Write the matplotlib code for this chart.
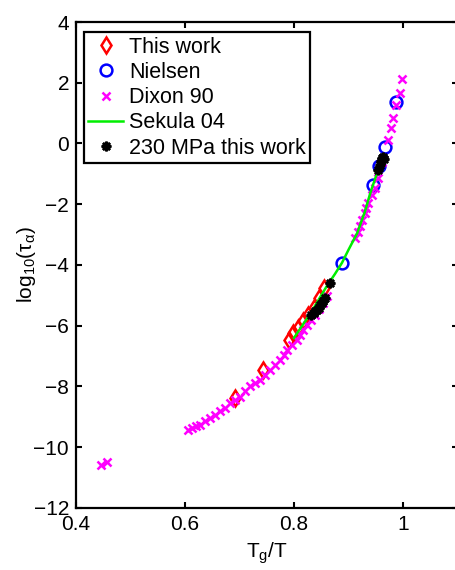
import numpy as np
import matplotlib
matplotlib.use('Agg')
from matplotlib import pyplot as plt

plt.rcParams['font.family'] = ['Liberation Sans', 'DejaVu Sans']
plt.rcParams['mathtext.fontset'] = 'custom'
plt.rcParams['mathtext.rm'] = 'Liberation Sans'
plt.rcParams['mathtext.it'] = 'Liberation Sans'

# data (x = Tg/T, y = log10(tau_alpha))
this_work_x = [0.692, 0.744, 0.790, 0.799, 0.808, 0.817, 0.826, 0.836, 0.845, 0.855]
this_work_y = [-8.38, -7.45, -6.46, -6.24, -6.08, -5.86, -5.64, -5.42, -5.09, -4.75]

nielsen_x = [0.888, 0.945, 0.956, 0.967, 0.988]
nielsen_y = [-3.93, -1.36, -0.74, -0.10, 1.36]

dixon_x = [0.445, 0.456,
           0.605, 0.612, 0.620, 0.628, 0.637, 0.646, 0.655, 0.664, 0.673, 0.683,
           0.692, 0.701, 0.710, 0.719, 0.728, 0.738, 0.747, 0.756, 0.765, 0.774,
           0.781, 0.788, 0.796, 0.805, 0.811, 0.817, 0.823, 0.832, 0.839, 0.846,
           0.853, 0.860,
           0.912, 0.918, 0.921, 0.924, 0.930, 0.933, 0.936, 0.943, 0.948, 0.955,
           0.962, 0.973, 0.978, 0.982, 0.988, 0.994, 0.999]
dixon_y = [-10.6, -10.5,
           -9.42, -9.37, -9.31, -9.26, -9.15, -9.04, -8.93, -8.82, -8.71, -8.54,
           -8.43, -8.33, -8.16, -8.00, -7.88, -7.78, -7.61, -7.45, -7.28, -7.12,
           -6.97, -6.81, -6.64, -6.46, -6.30, -6.13, -5.97, -5.80, -5.64, -5.45,
           -5.25, -5.02,
           -3.12, -2.90, -2.73, -2.51, -2.29, -2.13, -1.96, -1.69, -1.45, -1.14,
           -0.62, 0.12, 0.50, 0.83, 1.27, 1.65, 2.12]

sekula_x = [0.800, 0.815, 0.830, 0.845, 0.860, 0.875, 0.888, 0.900, 0.916, 0.930, 0.940, 0.950, 0.962]
sekula_y = [-6.40, -6.00, -5.60, -5.15, -4.70, -4.30, -3.93, -3.50, -2.95, -2.25, -1.63, -1.10, -0.40]

mpa230_x = [0.832, 0.836, 0.839, 0.842, 0.845, 0.848, 0.851, 0.854, 0.857, 0.866,
            0.955, 0.957, 0.959, 0.961, 0.963, 0.965]
mpa230_y = [-5.64, -5.58, -5.53, -5.47, -5.42, -5.33, -5.25, -5.17, -5.09, -4.60,
            -0.87, -0.72, -0.58, -0.48, -0.45, -0.50]

xticks = [0.4, 0.6, 0.8, 1.0]
xticklabels = ['0.4', '0.6', '0.8', '1']
yticks = [-12, -10, -8, -6, -4, -2, 0, 2, 4]

fig = plt.figure(figsize=(4.55, 5.70), dpi=100)
ax = fig.add_axes([0.167, 0.1088, 0.8385, 0.8526])

ax.plot(this_work_x, this_work_y, 'd', color='#ff0000', mfc='none', mew=1.8, ms=8, label='This work')
ax.plot(nielsen_x, nielsen_y, 'o', color='#0000ff', mfc='none', mew=1.8, ms=8.5, label='Nielsen')
ax.plot(dixon_x, dixon_y, 'x', color='#ff00ff', mew=1.8, ms=5.5, ls='none', label='Dixon 90')
ax.plot(sekula_x, sekula_y, '-', color='#00ee00', lw=1.8, label='Sekula 04')
ax.plot(mpa230_x, mpa230_y, marker=(8, 2, 0), color='k', mew=1.8, ms=7, ls='none', label='230 MPa this work')

ax.set_xlim(0.4, 1.1)
ax.set_ylim(-12, 4)
ax.set_xticks(xticks)
ax.set_xticklabels(xticklabels)
ax.set_yticks(yticks)
ax.tick_params(direction='in', top=True, right=True, length=4, width=1.5, labelsize=15, pad=5)
for s in ax.spines.values():
    s.set_linewidth(1.6)

ax.set_xlabel('T$_\\mathrm{g}$/T', fontsize=15, labelpad=5)
ax.set_ylabel('log$_{10}$($\\tau_\\alpha$)', fontsize=15)
ax.yaxis.set_label_coords(-0.10, 0.5)

leg = ax.legend(loc='upper left', bbox_to_anchor=(0.021, 0.979), borderaxespad=0,
                fontsize=15.5, fancybox=False, framealpha=1, edgecolor='k',
                handlelength=1.6, handletextpad=0.3, labelspacing=0.2, borderpad=0.2)
leg.get_frame().set_linewidth(1.6)

plt.savefig('out.png', dpi=100)
